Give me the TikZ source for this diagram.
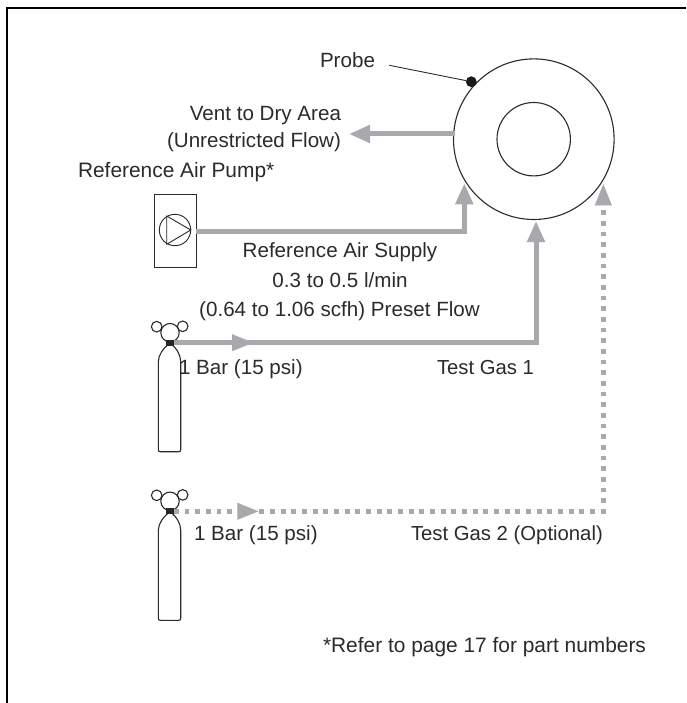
\documentclass[tikz,border=0pt]{standalone}
\usepackage{fontspec}
\setmainfont{Liberation Sans}
\usetikzlibrary{arrows.meta}
\definecolor{pipe}{HTML}{A7A9AC}
\definecolor{ink}{HTML}{2B2B2B}
\tikzset{
  every node/.style={inner sep=0pt,outer sep=0pt},
  lbl/.style={anchor=base west,text=ink,font=\fontsize{20.6}{24}\selectfont},
  lblwide/.style={lbl,font=\fontsize{20.9}{24}\selectfont},
  lblnarrow/.style={lbl,font=\fontsize{20.3}{24}\selectfont},
  outline/.style={draw=ink,line width=1.1pt},
  gasline/.style={draw=pipe,line width=5pt},
  dotline/.style={draw=pipe,line width=5pt,dash pattern=on 4.8pt off 5.87pt},
  headtip/.style={-{Triangle[length=21pt,width=17pt,fill=pipe,color=pipe]}},
  headonly/.style={draw=pipe,line width=0.01pt,headtip},
  cylinder/.pic={
    \coordinate (-neck) at (0,0);
    \draw[outline,fill=white] (-11.7,107) -- (-11.7,19) .. controls (-11.7,12) and (-6,5) .. (-2,2) -- (2,2) .. controls (6,5) and (10.7,12) .. (10.7,19) -- (10.7,107) .. controls (10.7,108.5) and (10,109) .. (8.7,109) -- (-9.7,109) .. controls (-11,109) and (-11.7,108.5) .. (-11.7,107) -- cycle;
    \draw[outline,fill=white] (-13.3,-16) circle[radius=5.3];
    \draw[outline,fill=white] (12.7,-16.4) circle[radius=5.3];
    \draw[outline,fill=white] (0,-10) circle[radius=9.2];
    \fill[ink!90!black] (-4,-3.2) rectangle (4,3);
  }
}
\begin{document}
\begin{tikzpicture}[x=1pt,y=-1pt]
\useasboundingbox (0,0) rectangle (686,703);
\fill[white] (0,0) rectangle (686,703);
\draw[line width=2pt,black] (7,703) -- (7,7.7) -- (686,7.7);

% analyser
\node[circle,draw=ink,line width=1.1pt,minimum size=160.6pt] (outer) at (533.8,139.2) {};
\node[circle,draw=ink,line width=1.1pt,minimum size=73.4pt] (inner) at (533.7,139.2) {};
\fill[black!90] (471.3,81.7) circle[radius=5.4];
\node[circle,minimum size=10.8pt] (probe) at (471.3,81.7) {};
\coordinate (probeend) at (389.3,65.3);
\draw[ink,line width=0.9pt] (probeend) -- (probe);

% pump
\node[draw=ink,line width=0.9pt,minimum width=41.7pt,minimum height=73.4pt] (pump) at (175.1,231) {};
\node[circle,draw=ink,line width=0.9pt,minimum size=31.4pt] (pumpc) at (175,230) {};
\draw[ink,line width=0.9pt,line join=miter] (166.7,216) -- (190.7,230) -- (166.7,244.3) -- cycle;

% cylinders
\pic (cyl1) at (170,342.7) {cylinder};
\pic (cyl2) at (170,511.3) {cylinder};

% connectors
\coordinate (ventstart) at (455,134);
\coordinate (venttip) at (349,134);
\draw[gasline,headtip] (ventstart) -- (venttip);

\coordinate (pumpout) at (196,231);
\coordinate (pumptip) at (464.3,183.3);
\draw[gasline,headtip] (pumpout) -| (pumptip);

\coordinate (gas1out) at (174,342.7);
\coordinate (gas1midb) at (232,342.7);
\coordinate (gas1mid) at (253,342.7);
\coordinate (gas1corner) at (536,342.7);
\coordinate (gas1tip) at (536,221);
\draw[gasline,headtip] (gas1out) -- (gas1corner) -- (gas1tip);
\path[headonly] (gas1midb) -- (gas1mid);

\coordinate (gas2out) at (174,511.3);
\coordinate (gas2midb) at (237.3,511.3);
\coordinate (gas2mid) at (258.3,511.3);
\coordinate (gas2corner) at (603.3,511.3);
\coordinate (gas2base) at (603.3,207);
\coordinate (gas2tip) at (603.3,184.3);
\draw[dotline] (gas2out) -- (gas2corner) -- (gas2base);
\path[headonly] (gas2midb) -- (gas2mid);
\path[headonly] (gas2base) -- (gas2tip);

% labels
\node[lbl] (tprobe) at (320,68) {Probe};
\node[lbl,anchor=base east] (tvent) at (341,121) {Vent to Dry Area};
\node[lbl,anchor=base east] (tunres) at (341,147.3) {(Unrestricted Flow)};
\node[lblwide] (tpump) at (78,178) {Reference Air Pump*};
\node[lbl,anchor=base] (tsupply) at (340,257.5) {Reference Air Supply};
\node[lbl,anchor=base] (trate) at (340,287.3) {0.3 to 0.5 l/min};
\node[lbl,anchor=base] (tflow) at (339.5,316) {(0.64 to 1.06 scfh) Preset Flow};
\node[lbl] (tbar1) at (179,374) {1 Bar (15 psi)};
\node[lblnarrow] (tgas1) at (437,374) {Test Gas 1};
\node[lbl] (tbar2) at (194,540) {1 Bar (15 psi)};
\node[lblnarrow] (tgas2) at (411,540) {Test Gas 2 (Optional)};
\node[lblwide] (tnote) at (323,652) {*Refer to page 17 for part numbers};
\end{tikzpicture}
\end{document}
